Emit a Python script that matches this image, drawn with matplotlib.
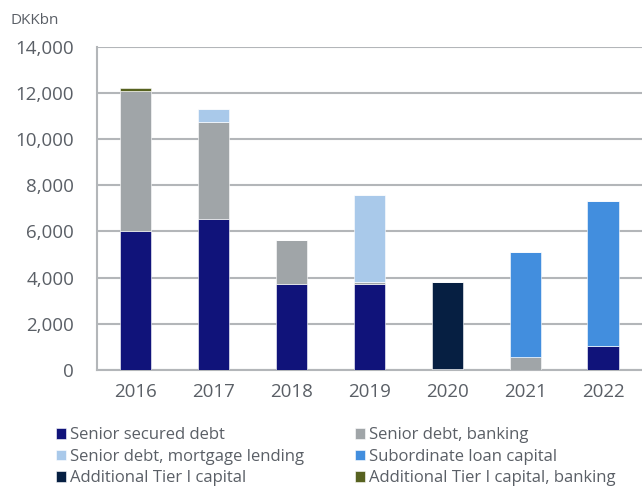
import matplotlib
matplotlib.use("Agg")
import matplotlib.pyplot as plt
import numpy as np

years = ["2016", "2017", "2018", "2019", "2020", "2021", "2022"]
senior_secured = [6000, 6560, 3720, 3740, 0, 0, 1040]
senior_banking = [6100, 4180, 1890, 70, 60, 560, 0]
senior_mortgage = [0, 580, 0, 3750, 0, 0, 0]
subordinate = [0, 0, 0, 0, 0, 4560, 6300]
at1_capital = [0, 0, 0, 0, 3760, 0, 0]
at1_banking = [120, 0, 0, 0, 0, 0, 0]

series = [
    ("Senior secured debt", senior_secured, "#10137a"),
    ("Senior debt, banking", senior_banking, "#a0a5a8"),
    ("Senior debt, mortgage lending", senior_mortgage, "#a9c9ea"),
    ("Subordinate loan capital", subordinate, "#428ede"),
    ("Additional Tier I capital", at1_capital, "#061f42"),
    ("Additional Tier I capital, banking", at1_banking, "#576220"),
]
# stacking order from bottom to top
stack_order = [0, 1, 4, 3, 2, 5]

plt.rcParams["font.family"] = ["Open Sans", "DejaVu Sans"]
text_color = "#5a5f66"
grid_color = "#b3b6b9"

fig = plt.figure(figsize=(6.42, 4.88), dpi=100)
ax = fig.add_axes([0.151, 0.242, 0.849, 0.662])

x = np.arange(len(years))
bottom = np.zeros(len(years))
handles = {}
for i in stack_order:
    label, vals, color = series[i]
    vals = np.array(vals, dtype=float)
    h = ax.bar(x, vals, width=0.4, bottom=bottom, color=color, label=label,
               edgecolor="white", linewidth=0.4, zorder=3)
    handles[i] = h
    bottom += vals

ax.set_ylim(0, 14000)
ax.set_xlim(-0.5, len(years) - 0.5)
ax.set_yticks(np.arange(0, 14001, 2000))
ax.set_yticklabels([f"{v:,}" for v in range(0, 14001, 2000)])
ax.set_xticks(x)
ax.set_xticklabels(years)
ax.yaxis.grid(True, color=grid_color, linewidth=1.5, zorder=0)
ax.set_axisbelow(True)
for s in ["right", "top"]:
    ax.spines[s].set_visible(False)
for s in ["bottom", "left"]:
    ax.spines[s].set_color(grid_color)
    ax.spines[s].set_linewidth(1.5)
ax.tick_params(axis="both", length=0, labelsize=13.5, colors=text_color)
ax.tick_params(axis="x", pad=9.5)
ax.tick_params(axis="y", pad=16.5)

fig.text(0.016, 0.959, "DKKbn", fontsize=11, color=text_color, ha="left", va="center")

# two legend columns, placed independently
legend_kw = dict(loc="upper left", frameon=False, fontsize=12,
                 labelcolor=text_color, handlelength=0.6, handleheight=0.6,
                 handletextpad=0.25, labelspacing=0.32,
                 borderaxespad=0, borderpad=0)
left_col = [0, 2, 4]
right_col = [1, 3, 5]
fig.legend([handles[i] for i in left_col], [series[i][0] for i in left_col],
           bbox_to_anchor=(56 / 642, 0.124), **legend_kw)
fig.legend([handles[i] for i in right_col], [series[i][0] for i in right_col],
           bbox_to_anchor=(355 / 642, 0.124), **legend_kw)

fig.savefig("out.png", dpi=100)
